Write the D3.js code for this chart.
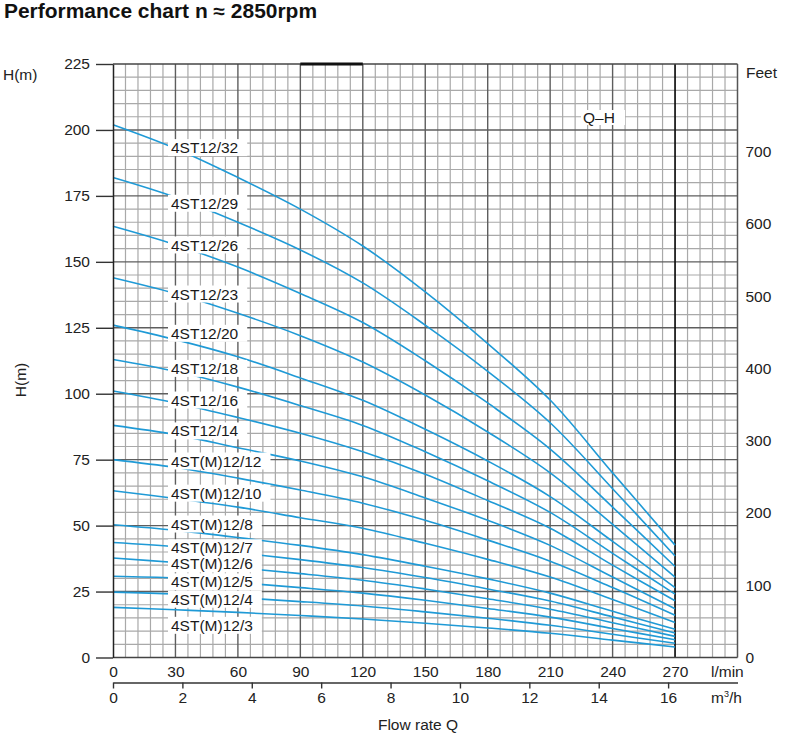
<!DOCTYPE html>
<html><head><meta charset="utf-8">
<script src="https://cdn.jsdelivr.net/npm/d3@7"></script>
<style>
body{margin:0;background:#fff}
text{font-family:"Liberation Sans",Arial,Helvetica,sans-serif}
</style>
</head><body>
<svg id="chart" width="800" height="740"></svg>
<script>
// ---------- data ----------
const flowLmin = [0, 30, 60, 90, 120, 150, 180, 210, 240, 270];
const models = ["4ST12/32","4ST12/29","4ST12/26","4ST12/23","4ST12/20","4ST12/18","4ST12/16","4ST12/14",
  "4ST(M)12/12","4ST(M)12/10","4ST(M)12/8","4ST(M)12/7","4ST(M)12/6","4ST(M)12/5","4ST(M)12/4","4ST(M)12/3"];
const h32 = [202, 193, 182, 170, 156, 138.6, 119, 97.6, 70, 42.6];
const h29 = [182, 174.5, 165, 154.5, 142, 126, 108.5, 89, 64, 38.5];
const h26 = [163.5, 156.5, 148, 138, 127, 112.5, 96.5, 79, 57, 34.5];
const h23 = [144, 138, 130.5, 122, 112, 99.5, 85.5, 70, 50.5, 30.5];
const h20 = [126, 120.5, 114, 106, 97.5, 86.5, 74.5, 61, 44, 26.5];
const h18 = [113, 108.5, 102.5, 95.5, 88, 78, 67, 55, 39.5, 24];
const h16 = [101, 96.5, 91, 85, 78, 69.5, 59.5, 49, 35, 21.5];
const h14 = [88, 84.5, 79.5, 74.5, 68.5, 60.5, 52, 42.5, 30.5, 18.5];
const h12 = [75, 72, 68, 63.5, 58.5, 52, 44.5, 36.5, 26.5, 16];
const h10 = [63.2, 60.3, 57, 53, 49, 43.3, 37.2, 30.5, 22, 13.3];
const h8  = [50.3, 48.2, 45.5, 42.5, 39, 34.6, 29.8, 24.4, 17.5, 10.7];
const h7  = [43.6, 42, 39.7, 37.1, 34.1, 30.3, 26, 21.4, 15.4, 9.3];
const h6  = [37.7, 36, 34, 31.8, 29.3, 26, 22.3, 18.3, 13.2, 8];
const h5  = [30.8, 30.1, 28.4, 26.5, 24.4, 21.7, 18.6, 15.3, 11, 6.7];
const h4  = [24.8, 24.1, 22.7, 21.2, 19.5, 17.3, 14.9, 12.2, 8.8, 5.4];
const h3  = [19, 18.1, 17.1, 15.9, 14.6, 13, 11.2, 9.2, 6.6, 4];
// head (m) at which each model's label is anchored
const labelHead = [193.3, 172.2, 156.4, 137.8, 122.9, 109.6, 97.6, 85.9, 74.5, 62.3, 50.6, 41.6, 35.5, 28.7, 22.1, 12.2];
const headTicks = [0, 25, 50, 75, 100, 125, 150, 175, 200, 225];
const flowTicks = [0, 30, 60, 90, 120, 150, 180, 210, 240, 270];
const m3hTicks = [0, 2, 4, 6, 8, 10, 12, 14, 16];
const feetTicks = [0, 100, 200, 300, 400, 500, 600, 700];

const heads = [h32,h29,h26,h23,h20,h18,h16,h14,h12,h10,h8,h7,h6,h5,h4,h3];
const series = models.map((m, i) => ({name: m, values: heads[i], labelH: labelHead[i]}));

// ---------- layout ----------
const svg = d3.select("#chart");
const L = 113, R = 737.5, T = 64, B = 657.5;
const x = d3.scaleLinear().domain([0, 300]).range([L, R]);
const y = d3.scaleLinear().domain([0, 225]).range([B, T]);
const xm3 = d3.scaleLinear().domain([0, 18]).range([L, R]);
const yFeet = d3.scaleLinear().domain([0, (B - T) / 0.7226]).range([B, T]);
const blue = "#1f9ad6";
const FS = 15.5;

// title
svg.append("text").attr("x", 4).attr("y", 18).attr("font-size", 19.5).attr("font-weight", "bold")
  .attr("textLength", 313).attr("lengthAdjust", "spacingAndGlyphs").attr("fill", "#111")
  .text("Performance chart n \u2248 2850rpm");

// grid
const g = svg.append("g");
const vMinor = d3.range(0, 301, 6);
const hMinor = d3.range(0, 226, 5);
g.selectAll(".vm").data(vMinor.filter(v => v % 30 !== 0)).join("line")
  .attr("x1", d => x(d)).attr("x2", d => x(d)).attr("y1", T).attr("y2", B)
  .attr("stroke", "#a9a9a9").attr("stroke-width", 1.2);
g.selectAll(".hm").data(hMinor.filter(v => v % 25 !== 0)).join("line")
  .attr("x1", L).attr("x2", R).attr("y1", d => y(d)).attr("y2", d => y(d))
  .attr("stroke", "#a9a9a9").attr("stroke-width", 1.2);
g.selectAll(".vM").data(d3.range(30, 300, 30).filter(v => v !== 270)).join("line")
  .attr("x1", d => x(d)).attr("x2", d => x(d)).attr("y1", T).attr("y2", B)
  .attr("stroke", "#5e5e5e").attr("stroke-width", 1.4);
g.selectAll(".hM").data(d3.range(25, 225, 25)).join("line")
  .attr("x1", L).attr("x2", R).attr("y1", d => y(d)).attr("y2", d => y(d))
  .attr("stroke", "#5e5e5e").attr("stroke-width", 1.4);
g.append("line").attr("x1", x(270)).attr("x2", x(270)).attr("y1", T).attr("y2", B)
  .attr("stroke", "#111").attr("stroke-width", 1.7);
// frame
g.append("line").attr("x1", L).attr("x2", R).attr("y1", T).attr("y2", T).attr("stroke", "#444").attr("stroke-width", 1.5);
g.append("line").attr("x1", L).attr("x2", R).attr("y1", B).attr("y2", B).attr("stroke", "#444").attr("stroke-width", 1.5);
g.append("line").attr("x1", R).attr("x2", R).attr("y1", T).attr("y2", B).attr("stroke", "#555").attr("stroke-width", 1.5);
g.append("line").attr("x1", x(90)).attr("x2", x(120)).attr("y1", T).attr("y2", T).attr("stroke", "#111").attr("stroke-width", 3);

// curves
const line = d3.line().x((d, i) => x(flowLmin[i])).y(d => y(d)).curve(d3.curveCatmullRom.alpha(0.5));
svg.append("g").selectAll("path").data(series).join("path")
  .attr("d", d => line(d.values)).attr("fill", "none").attr("stroke", blue).attr("stroke-width", 1.6);

// labels
const lg = svg.append("g");
series.forEach(s => {
  const gy = y(s.labelH);
  const t = lg.append("text").attr("x", 171).attr("y", gy).attr("dy", "0.36em")
    .attr("font-size", FS).attr("fill", "#1a1a1a").text(s.name);
  const w = t.node().getComputedTextLength();
  lg.insert("rect", "text").attr("x", 168).attr("y", gy - 8.5).attr("width", w + 12).attr("height", 17).attr("fill", "#fff");
});
// Q-H label
lg.append("rect").attr("x", 581).attr("y", 110).attr("width", 44).attr("height", 15).attr("fill", "#fff");
lg.append("text").attr("x", 583).attr("y", 117.5).attr("dy", "0.36em").attr("font-size", FS).attr("fill", "#1a1a1a").text("Q\u2013H");

// left axis
const ax = svg.append("g").attr("transform", `translate(${L},0)`)
  .call(d3.axisLeft(y).tickValues(headTicks).tickSizeInner(17).tickSizeOuter(0).tickPadding(6));
ax.select(".domain").attr("stroke", "#222").attr("stroke-width", 1.5);
ax.selectAll(".tick line").attr("stroke", "#333").attr("stroke-width", 1.4);
ax.selectAll("text").attr("font-size", FS).attr("fill", "#222").attr("font-family", "Liberation Sans, Arial, sans-serif");

// right feet axis
const af = svg.append("g").attr("transform", `translate(${R},0)`)
  .call(d3.axisRight(yFeet).tickValues(feetTicks).tickSize(0).tickPadding(8));
af.select(".domain").remove();
af.selectAll("text").attr("font-size", FS).attr("fill", "#222").attr("font-family", "Liberation Sans, Arial, sans-serif");

// bottom l/min axis
const ab = svg.append("g").attr("transform", `translate(0,${B})`)
  .call(d3.axisBottom(x).tickValues(flowTicks).tickSize(0).tickPadding(8));
ab.select(".domain").remove();
ab.selectAll("text").attr("font-size", FS).attr("fill", "#222").attr("font-family", "Liberation Sans, Arial, sans-serif");

// bottom m3/h axis
const am = svg.append("g").attr("transform", `translate(0,682.5)`)
  .call(d3.axisBottom(xm3).tickValues(m3hTicks).tickSizeInner(6).tickSizeOuter(0).tickPadding(3));
am.select(".domain").attr("stroke", "#333").attr("stroke-width", 1.5);
am.selectAll(".tick line").attr("stroke", "#333").attr("stroke-width", 1.4);
am.selectAll("text").attr("font-size", FS).attr("fill", "#222").attr("font-family", "Liberation Sans, Arial, sans-serif");

// axis titles
svg.append("text").attr("x", 3).attr("y", 74).attr("dy", "0.36em").attr("font-size", FS).attr("fill", "#222").text("H(m)");
svg.append("text").attr("transform", "translate(20,380) rotate(-90)").attr("text-anchor", "middle").attr("dy", "0.36em")
  .attr("font-size", FS).attr("fill", "#222").text("H(m)");
svg.append("text").attr("x", 746).attr("y", 72).attr("dy", "0.36em").attr("font-size", FS).attr("fill", "#222").text("Feet");
svg.append("text").attr("x", 711).attr("y", 671).attr("dy", "0.36em").attr("font-size", FS).attr("fill", "#222").text("l/min");
const mt = svg.append("text").attr("x", 711).attr("y", 697).attr("dy", "0.36em").attr("font-size", FS).attr("fill", "#222");
mt.append("tspan").text("m");
mt.append("tspan").attr("font-size", 9).attr("dy", "-0.6em").text("3");
mt.append("tspan").attr("dy", "0.35em").text("/h");
svg.append("text").attr("x", 418).attr("y", 724).attr("text-anchor", "middle").attr("dy", "0.36em")
  .attr("font-size", FS).attr("fill", "#222").text("Flow rate Q");
</script>
</body></html>
